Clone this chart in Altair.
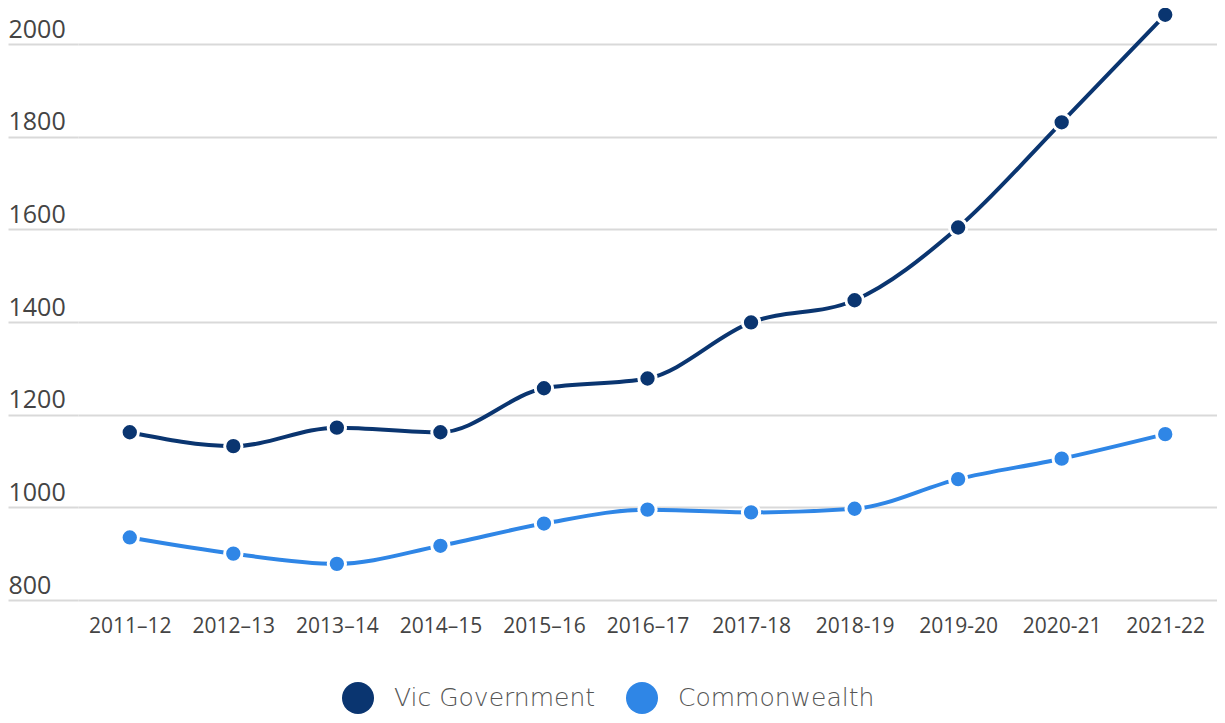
import altair as alt
import pandas as pd

years = ["2011–12", "2012–13", "2013–14", "2014–15", "2015–16", "2016–17",
         "2017-18", "2018-19", "2019-20", "2020-21", "2021-22"]
vic = [1162, 1132, 1172, 1162, 1257, 1278, 1399, 1447, 1604, 1831, 2063]
comm = [935, 900, 878, 917, 965, 995, 989, 997, 1061, 1105, 1158]
series = ["Vic Government", "Commonwealth"]
colors = ["#0a3570", "#2f86e6"]

rows = []
for y, v in zip(years, vic):
    rows.append({"year": y, "value": v, "series": series[0]})
for y, v in zip(years, comm):
    rows.append({"year": y, "value": v, "series": series[1]})
df = pd.DataFrame(rows)

x = alt.X("year:N", sort=years, title=None,
          scale=alt.Scale(type="point", padding=0.5),
          axis=alt.Axis(labelAngle=0, labelFontSize=21, labelColor="#444444",
                        labelFont="Open Sans", domain=False, ticks=False,
                        labelPadding=15, grid=False))
y = alt.Y("value:Q", title=None,
          scale=alt.Scale(domain=[800, 2000], nice=False, zero=False),
          axis=alt.Axis(values=[800, 1000, 1200, 1400, 1600, 1800, 2000], format="d",
                        labelAlign="left", labelPadding=0, tickSize=70, ticks=True,
                        tickColor="#d9d9d9", tickWidth=2,
                        domain=False, labelBaseline="alphabetic", labelOffset=-7,
                        labelFontSize=25, labelColor="#444444", labelFont="Open Sans",
                        gridColor="#d9d9d9", gridWidth=2))
color = alt.Color("series:N", sort=series,
                  scale=alt.Scale(domain=series, range=colors),
                  legend=alt.Legend(title=None, orient="none", direction="horizontal",
                                    legendX=264, legendY=638, symbolType="circle",
                                    symbolSize=1024, symbolStrokeWidth=0,
                                    labelFontSize=25, labelFont="DejaVu Sans",
                                    labelFontWeight=200,
                                    labelColor="#555555", labelOffset=20, labelLimit=0,
                                    columnPadding=30, symbolOpacity=1))

base = alt.Chart(df)
lines = base.mark_line(interpolate="monotone", strokeWidth=4, clip=False).encode(
    x=x, y=y, color=color)
points = base.mark_point(filled=True, size=300, stroke="white", strokeWidth=3,
                         opacity=1, clip=False).encode(
    x=x, y=y, fill=alt.Fill("series:N", scale=alt.Scale(domain=series, range=colors),
                            legend=None), color=alt.value("white"))

chart = alt.layer(lines, points).properties(
    width=1139, height=556,
    background="white",
    autosize=alt.AutoSizeParams(type="none"),
    padding={"left": 70, "top": 36, "right": 0, "bottom": 115},
).configure_view(stroke=None)

chart.save("out.html", embed_options={"renderer": "svg", "actions": False})
